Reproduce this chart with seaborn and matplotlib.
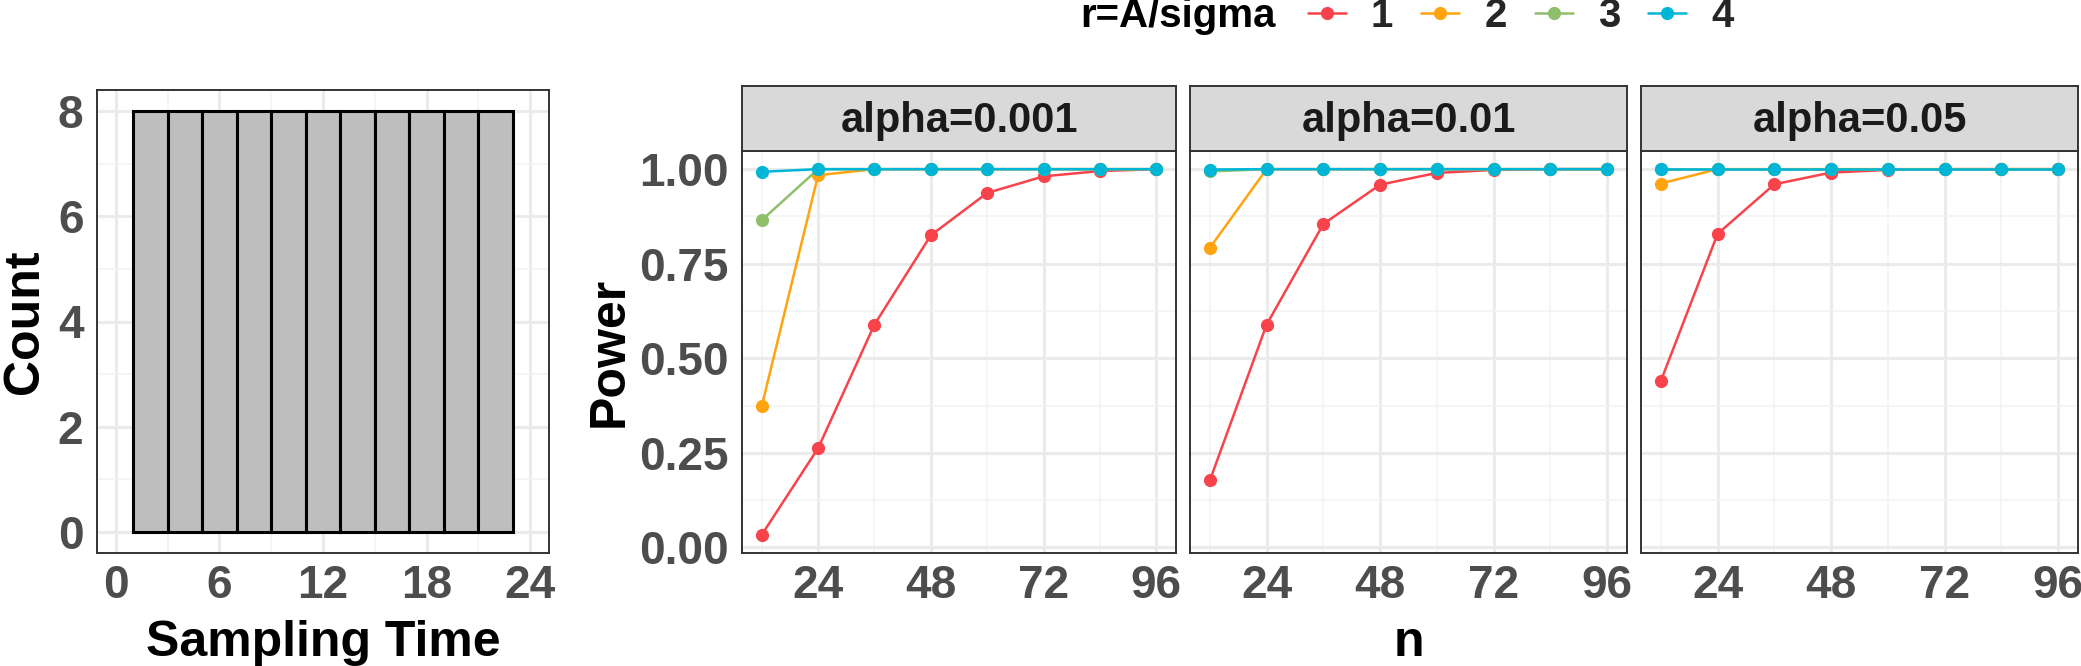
import numpy as np
import pandas as pd
import matplotlib
matplotlib.use("Agg")
import matplotlib.pyplot as plt
import seaborn as sns
from matplotlib.lines import Line2D
from matplotlib.ticker import FixedLocator

# ---------------- data ----------------
sampling_times = [2, 4, 6, 8, 10, 12, 14, 16, 18, 20, 22]
sampling_counts = [8, 8, 8, 8, 8, 8, 8, 8, 8, 8, 8]

n_values = [12, 24, 36, 48, 60, 72, 84, 96]
alpha_labels = ["alpha=0.001", "alpha=0.01", "alpha=0.05"]
r_levels = ["1", "2", "3", "4"]

power_a0001_r1 = [0.033, 0.262, 0.589, 0.825, 0.937, 0.981, 0.995, 1.000]
power_a0001_r2 = [0.373, 0.984, 1.000, 1.000, 1.000, 1.000, 1.000, 1.000]
power_a0001_r3 = [0.865, 1.000, 1.000, 1.000, 1.000, 1.000, 1.000, 1.000]
power_a0001_r4 = [0.993, 1.000, 1.000, 1.000, 1.000, 1.000, 1.000, 1.000]

power_a001_r1 = [0.177, 0.589, 0.855, 0.959, 0.990, 0.998, 1.000, 1.000]
power_a001_r2 = [0.792, 1.000, 1.000, 1.000, 1.000, 1.000, 1.000, 1.000]
power_a001_r3 = [0.994, 1.000, 1.000, 1.000, 1.000, 1.000, 1.000, 1.000]
power_a001_r4 = [0.999, 1.000, 1.000, 1.000, 1.000, 1.000, 1.000, 1.000]

power_a005_r1 = [0.440, 0.829, 0.960, 0.991, 0.998, 1.000, 1.000, 1.000]
power_a005_r2 = [0.962, 1.000, 1.000, 1.000, 1.000, 1.000, 1.000, 1.000]
power_a005_r3 = [1.000, 1.000, 1.000, 1.000, 1.000, 1.000, 1.000, 1.000]
power_a005_r4 = [1.000, 1.000, 1.000, 1.000, 1.000, 1.000, 1.000, 1.000]

power_table = {
    "alpha=0.001": [power_a0001_r1, power_a0001_r2, power_a0001_r3, power_a0001_r4],
    "alpha=0.01": [power_a001_r1, power_a001_r2, power_a001_r3, power_a001_r4],
    "alpha=0.05": [power_a005_r1, power_a005_r2, power_a005_r3, power_a005_r4],
}

rows = []
for a in alpha_labels:
    for r, vals in zip(r_levels, power_table[a]):
        for n, p in zip(n_values, vals):
            rows.append({"alpha": a, "r": r, "n": n, "power": p})
df = pd.DataFrame(rows)
hist_df = pd.DataFrame({"time": sampling_times, "count": sampling_counts})

palette = {"1": "#F8434B", "2": "#FFA30E", "3": "#8FBF6A", "4": "#00B6D7"}

# ---------------- style ----------------
sns.set_theme(style="white")
plt.rcParams["font.family"] = ["Liberation Sans", "DejaVu Sans"]
plt.rcParams["font.weight"] = "bold"

W, H = 2081, 666
fig = plt.figure(figsize=(W / 100, H / 100), dpi=100)
fig.patch.set_facecolor("white")

def fx(px):
    return px / W

def fy(py):
    return 1 - py / H

TICK_COL = "#4D4D4D"
BORDER = "#333333"
GRID_MAJ = "#EBEBEB"
GRID_MIN = "#F2F2F2"
TICK_FS = 33
TITLE_FS = 36

def style_axes(ax):
    ax.set_facecolor("white")
    for s in ax.spines.values():
        s.set_color(BORDER)
        s.set_linewidth(1.4)
        s.set_visible(True)
    ax.set_axisbelow(True)
    ax.grid(which="major", color=GRID_MAJ, linewidth=2.2)
    ax.grid(which="minor", color=GRID_MIN, linewidth=1.1)
    ax.tick_params(axis="both", which="major", length=5.8, width=1.5, color=BORDER,
                   labelsize=TICK_FS, labelcolor=TICK_COL)
    ax.tick_params(axis="x", which="major", pad=2)
    ax.tick_params(axis="y", which="major", pad=4)
    ax.tick_params(axis="both", which="minor", length=0)
    for lab in ax.get_xticklabels() + ax.get_yticklabels():
        lab.set_fontweight("bold")

panel_top, panel_bot = 151, 553
strip_top = 86
XTITLE_TOP = 620

# ---------------- histogram ----------------
hx0, hx1, hy0 = 97, 549, 90
axh = fig.add_axes([fx(hx0), fy(panel_bot), fx(hx1 - hx0), (panel_bot - hy0) / H])
sns.histplot(data=hist_df, x="time", weights="count", binwidth=2, binrange=(1, 23),
             color="#BEBEBE", edgecolor="black", linewidth=2.2, alpha=1, ax=axh)
axh.set_xlim(-1.1, 25.1)
axh.set_ylim(-0.4, 8.4)
axh.set_xticks([0, 6, 12, 18, 24])
axh.set_yticks([0, 2, 4, 6, 8])
axh.xaxis.set_minor_locator(FixedLocator([3, 9, 15, 21]))
axh.yaxis.set_minor_locator(FixedLocator([1, 3, 5, 7]))
style_axes(axh)
axh.set_xlabel("Sampling Time", fontsize=TITLE_FS, fontweight="bold", color="black")
axh.set_ylabel("Count", fontsize=TITLE_FS, fontweight="bold", color="black")
hh = panel_bot - hy0
axh.xaxis.set_label_coords(0.5, -(XTITLE_TOP - panel_bot) / hh)
axh.yaxis.set_label_coords((48 - hx0) / (hx1 - hx0), 0.5)

# ---------------- facets ----------------
panel_x = [(742, 1176), (1190, 1627), (1641, 2078)]
ph = panel_bot - panel_top
for i, (a, (x0, x1)) in enumerate(zip(alpha_labels, panel_x)):
    ax = fig.add_axes([fx(x0), fy(panel_bot), fx(x1 - x0), ph / H])
    sub = df[df["alpha"] == a]
    sns.lineplot(data=sub, x="n", y="power", hue="r", hue_order=r_levels, palette=palette,
                 marker="o", markersize=9.5, markeredgewidth=0, linewidth=1.8,
                 legend=False, ax=ax)
    ax.set_xlim(7.8, 100.2)
    ax.set_ylim(-0.015, 1.048)
    ax.set_xticks([24, 48, 72, 96])
    ax.set_yticks([0, 0.25, 0.5, 0.75, 1.0])
    ax.set_yticklabels(["0.00", "0.25", "0.50", "0.75", "1.00"])
    ax.xaxis.set_minor_locator(FixedLocator([12, 36, 60, 84]))
    ax.yaxis.set_minor_locator(FixedLocator([0.125, 0.375, 0.625, 0.875]))
    style_axes(ax)
    if i == 0:
        ax.set_ylabel("Power", fontsize=TITLE_FS, fontweight="bold", color="black")
        ax.yaxis.set_label_coords((633 - x0) / (x1 - x0), 0.5)
    else:
        ax.set_ylabel("")
        ax.tick_params(axis="y", labelleft=False, length=0)
    if i == 1:
        ax.set_xlabel("n", fontsize=TITLE_FS, fontweight="bold", color="black")
        ax.xaxis.set_label_coords(0.5, -(XTITLE_TOP - panel_bot) / ph)
    else:
        ax.set_xlabel("")
    # strip
    sax = fig.add_axes([fx(x0), fy(panel_top), fx(x1 - x0), (panel_top - strip_top) / H])
    sax.set_facecolor("#D9D9D9")
    sax.set_xticks([])
    sax.set_yticks([])
    for s in sax.spines.values():
        s.set_color(BORDER)
        s.set_linewidth(1.4)
    sax.text(0.5, 0.46, a, ha="center", va="center", fontsize=30, fontweight="bold",
             color="#1A1A1A", transform=sax.transAxes)

# ---------------- legend ----------------
fig.text(fx(1080), fy(16), "r=A/sigma", fontsize=29, fontweight="bold",
         color="black", ha="left", va="center")
handles = [Line2D([0], [0], color=palette[r], linewidth=1.8, marker="o",
                  markersize=9.5, markeredgewidth=0) for r in r_levels]
leg = fig.legend(handles, r_levels, loc="center left", bbox_to_anchor=(fx(1308), fy(16)),
                 ncol=4, frameon=False, fontsize=29, handlelength=0.94,
                 handletextpad=0.62, columnspacing=0.7, borderaxespad=0, borderpad=0)
for t in leg.get_texts():
    t.set_fontweight("bold")

fig.savefig("out.png", dpi=100, facecolor="white")
